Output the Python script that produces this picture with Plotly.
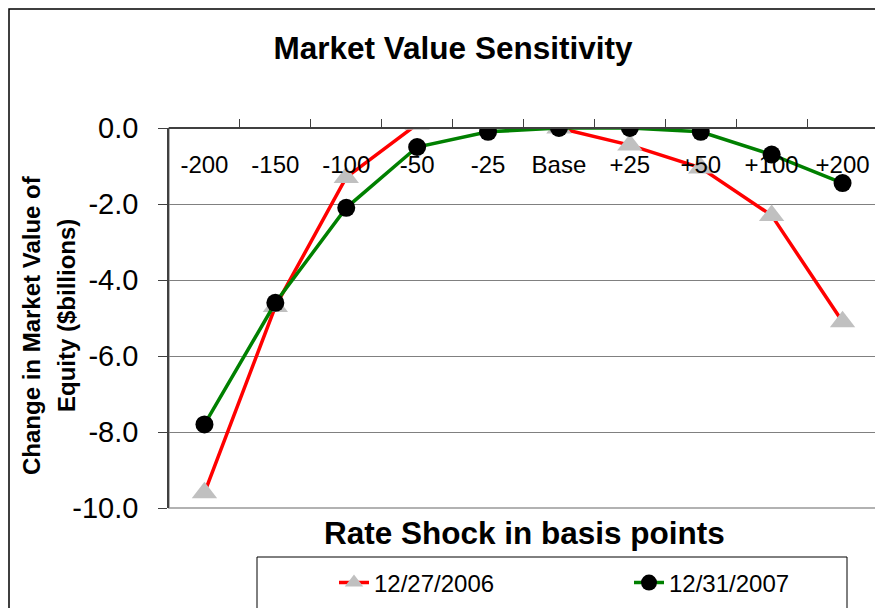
import plotly.graph_objects as go

categories = ["-200", "-150", "-100", "-50", "-25", "Base", "+25", "+50", "+100", "+200"]
series_2006 = [-9.6, -4.7, -1.3, 0.1, 0.2, 0.0, -0.45, -1.05, -2.3, -5.1]
series_2007 = [-7.8, -4.6, -2.1, -0.5, -0.1, 0.0, 0.0, -0.1, -0.7, -1.45]
y_tick_vals = [0, -2, -4, -6, -8, -10]
y_tick_text = ["0.0", "-2.0", "-4.0", "-6.0", "-8.0", "-10.0"]

# page offset (browser default body margin)
OFF = 8
W, H = 875, 600
# plot area in page pixels
PL, PR, PT, PB = 169, 878, 128, 508
L, R, T, B = PL - OFF, PR - OFF, PT - OFF, PB - OFF


def px(x):  # page x -> paper fraction
    return (x - PL) / (PR - PL)


def py(y):  # page y -> paper fraction
    return (PB - y) / (PB - PT)


FONT = "Arial, Liberation Sans, sans-serif"

fig = go.Figure()
fig.add_trace(go.Scatter(
    x=categories, y=series_2006, name="12/27/2006", mode="lines+markers",
    line=dict(color="#FF0000", width=3.5),
    marker=dict(symbol="triangle-up", size=22, color="#C0C0C0"),
    legend="legend",
))
fig.add_trace(go.Scatter(
    x=categories, y=series_2007, name="12/31/2007", mode="lines+markers",
    line=dict(color="#008000", width=3.5),
    marker=dict(symbol="circle", size=18, color="#000000"),
    legend="legend2",
))

legend_common = dict(orientation="h", xanchor="left", yanchor="middle",
                     font=dict(size=24, family=FONT, color="black"),
                     bgcolor="rgba(0,0,0,0)", borderwidth=0)

fig.update_layout(
    width=W, height=H,
    margin=dict(l=L, r=W - R, t=T, b=H - B, autoexpand=False),
    paper_bgcolor="white", plot_bgcolor="white",
    font=dict(family=FONT, color="black"),
    showlegend=True,
    title=dict(text="Market Value Sensitivity", xref="container", x=(453 - OFF) / W,
               y=1 - (48 - OFF) / H, xanchor="center", yanchor="middle",
               font=dict(size=31.5, weight="bold", family=FONT, color="black")),
    legend=dict(x=px(334), y=py(583), **legend_common),
    legend2=dict(x=px(629), y=py(583), **legend_common),
)

fig.update_xaxes(
    type="category", range=[-0.5, len(categories) - 0.5],
    anchor="free", position=1, side="bottom", automargin=False,
    showline=True, linecolor="#404040", linewidth=1.5,
    ticks="inside", tickson="boundaries", ticklen=8, tickcolor="#404040",
    ticklabelstandoff=15,
    tickfont=dict(size=24, family=FONT, color="black"),
    showgrid=False, zeroline=False, fixedrange=True,
)
fig.update_yaxes(
    range=[-10, 0], tickvals=y_tick_vals, ticktext=y_tick_text, automargin=False,
    showline=True, linecolor="#404040", linewidth=1.5,
    ticks="outside", ticklen=9, tickcolor="#404040", ticklabelstandoff=14,
    tickfont=dict(size=29, family=FONT, color="black"),
    showgrid=True, gridcolor="#808080", gridwidth=1, zeroline=False,
)

shapes = [
    # plot area frame (right / bottom)
    dict(type="rect", xref="paper", yref="paper", x0=0, x1=1, y0=0, y1=1,
         line=dict(color="#999999", width=1.5), layer="below"),
    # legend box
    dict(type="rect", xref="paper", yref="paper", x0=px(257), x1=px(847),
         y0=py(557), y1=py(625), line=dict(color="black", width=1)),
    # chart outer border
    dict(type="rect", xref="paper", yref="paper", x0=px(OFF + 1), x1=px(905),
         y0=py(OFF + 1), y1=py(625), line=dict(color="black", width=1.5)),
]
fig.update_layout(shapes=shapes)

fig.add_annotation(text="Rate Shock in basis points", xref="paper", yref="paper",
                   x=px(524), y=py(533), xanchor="center", yanchor="middle", showarrow=False,
                   font=dict(size=31.5, weight="bold", family=FONT, color="black"))
fig.add_annotation(text="Change in Market Value of", xref="paper", yref="paper",
                   x=px(31), y=py(325), xanchor="center", yanchor="middle", showarrow=False,
                   textangle=-90,
                   font=dict(size=24, weight="bold", family=FONT, color="black"))
fig.add_annotation(text="Equity ($billions)", xref="paper", yref="paper",
                   x=px(66), y=py(316), xanchor="center", yanchor="middle", showarrow=False,
                   textangle=-90,
                   font=dict(size=24, weight="bold", family=FONT, color="black"))

fig.write_html("out.html")
